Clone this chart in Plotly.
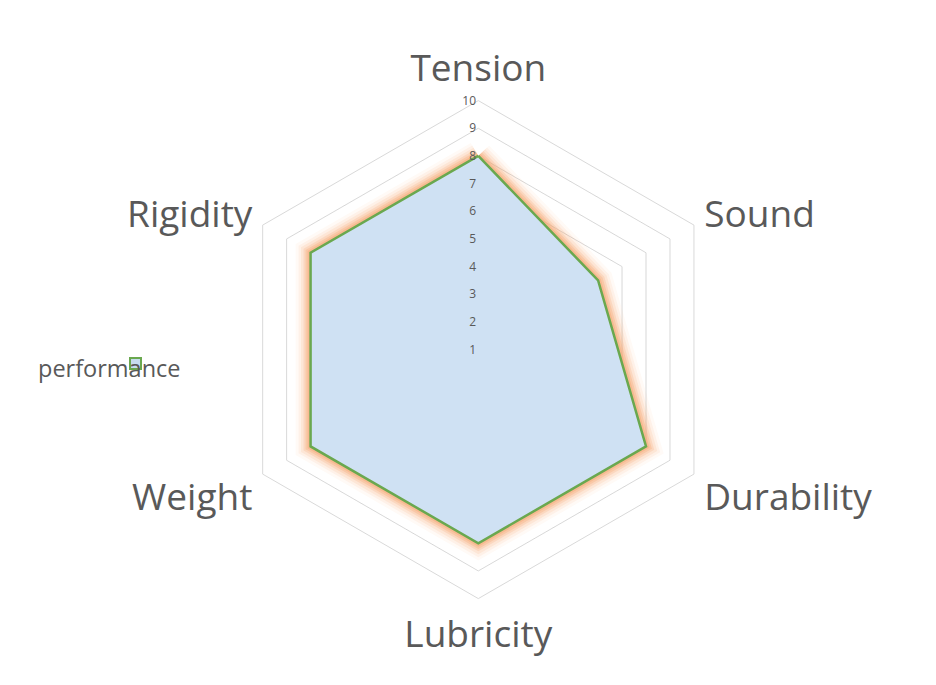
import plotly.graph_objects as go

categories = ["Tension", "Sound", "Durability", "Lubricity", "Weight", "Rigidity"]
performance = [8, 6, 8, 8, 8, 8]
tick_values = [1, 2, 3, 4, 5, 6, 7, 8, 9, 10]
series_name = "performance"

theta = categories + categories[:1]
r = performance + performance[:1]

fig = go.Figure()

# soft orange glow behind the outline
for w, op in [(30, 0.06), (24, 0.1), (19, 0.15), (14, 0.22), (10, 0.3), (6, 0.42)]:
    fig.add_trace(go.Scatterpolar(
        r=r, theta=theta, mode="lines",
        line=dict(color="#f5a670", width=w),
        opacity=op, showlegend=False, hoverinfo="skip",
    ))

fig.add_trace(go.Scatterpolar(
    r=r, theta=theta, mode="lines", fill="toself", name=series_name,
    fillcolor="#cfe1f3",
    line=dict(color="#6aa84f", width=2.5), showlegend=False,
))

# the page adds an 8px body margin, so the figure is drawn 8px in
OFF = 8
W, H = 928, 677
cx, cy, R = 478.3 - OFF, 349.6 - OFF, 249.0

fig.update_layout(
    width=W, height=H,
    margin=dict(l=0, r=0, t=0, b=0),
    paper_bgcolor="white", plot_bgcolor="white",
    font=dict(family="Open Sans, Noto Sans, sans-serif", color="#595959"),
    showlegend=False,
    polar=dict(
        domain=dict(x=[(cx - R) / W, (cx + R) / W],
                    y=[(H - cy - R) / H, (H - cy + R) / H]),
        bgcolor="white",
        gridshape="linear",
        radialaxis=dict(
            range=[1, 10], tickvals=tick_values,
            ticktext=[str(v) for v in tick_values],
            angle=90, tickangle=90, side="counterclockwise",
            showline=False, ticks="",
            gridcolor="#d9d9d9", gridwidth=1,
            tickfont=dict(size=12, color="#595959"),
        ),
        angularaxis=dict(
            direction="clockwise", rotation=90,
            showgrid=False, showline=True, linecolor="#d9d9d9", linewidth=1,
            ticks="outside", ticklen=4, tickcolor="rgba(0,0,0,0)",
            tickfont=dict(size=37, color="#595959"),
        ),
    ),
    annotations=[dict(
        x=(36 - OFF) / W, y=1 - (368 - OFF) / H, xref="paper", yref="paper",
        xanchor="left", yanchor="middle", showarrow=False,
        text=series_name, font=dict(size=23.5, color="#595959"),
    )],
    shapes=[dict(
        type="rect", xref="paper", yref="paper",
        x0=(130 - OFF) / W, x1=(141 - OFF) / W,
        y0=1 - (369 - OFF) / H, y1=1 - (358 - OFF) / H,
        line=dict(color="#6aa84f", width=2), fillcolor="#c7dcef",
    )],
)

fig.write_html("out.html")
